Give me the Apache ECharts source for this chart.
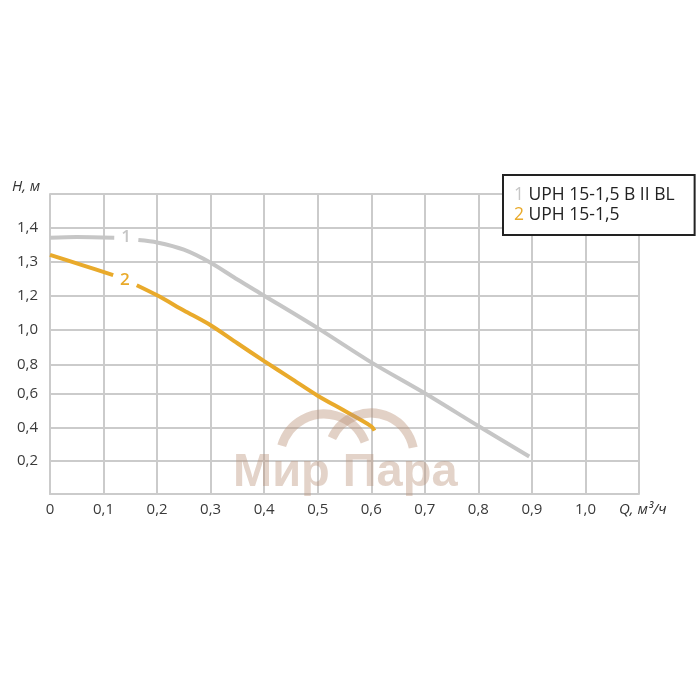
<!DOCTYPE html>
<html><head><meta charset="utf-8">
<script src="https://cdn.jsdelivr.net/npm/echarts@6/dist/echarts.min.js"></script>
<style>html,body{margin:0;padding:0;background:#fff}#c{width:700px;height:700px}</style>
</head><body><div id="c"></div>
<script>
// ---- data ----
const seriesNames = ['UPH 15-1,5 B II BL', 'UPH 15-1,5'];
const curveTags = ['1', '2'];
const q1 = [0, 0.05, 0.12, 0.14, 0.165, 0.2, 0.25, 0.3, 0.35, 0.4, 0.5, 0.6, 0.7, 0.8, 0.895];
const h1 = [1.37, 1.372, 1.37, null, 1.363, 1.356, 1.335, 1.297, 1.247, 1.198, 1.009, 0.815, 0.605, 0.408, 0.225];
const q2 = [0, 0.06, 0.118, 0.14, 0.162, 0.2, 0.25, 0.3, 0.35, 0.4, 0.45, 0.5, 0.55, 0.6, 0.606];
const h2 = [1.32, 1.29, 1.26, null, 1.23, 1.2, 1.112, 1.026, 0.923, 0.822, 0.708, 0.59, 0.499, 0.406, 0.38];
const tagH = [1.37, 1.245];
const tagQ = [0.142, 0.14];
const xTickLabels = ['0', '0,1', '0,2', '0,3', '0,4', '0,5', '0,6', '0,7', '0,8', '0,9', '1,0', ''];
const yTickValues = [0.2, 0.4, 0.6, 0.8, 1.0, 1.2, 1.3, 1.4];
const yTickLabels = ['0,2', '0,4', '0,6', '0,8', '1,0', '1,2', '1,3', '1,4'];

// ---- axis layout: the printed H scale is not linear; grid rows as drawn ----
const hKnots = [0, 0.2, 0.4, 0.6, 0.8, 1.0, 1.2, 1.3, 1.4, 1.5];
const rowKnots = [0, 1, 2, 3, 3.87, 4.93, 5.96, 6.97, 8, 9];
function toRow(h) {
  if (h === null) return '-';
  for (let i = 1; i < hKnots.length; i++) {
    if (h <= hKnots[i] || i === hKnots.length - 1) {
      const t = (h - hKnots[i - 1]) / (hKnots[i] - hKnots[i - 1]);
      return rowKnots[i - 1] + t * (rowKnots[i] - rowKnots[i - 1]);
    }
  }
}
const colors = ['#c6c6c6', '#e9aa2b'];
const gridColor = '#cbcbcb';
const font = '"Open Sans", "Noto Sans", sans-serif';

function mk(qs, hs, idx) {
  return {
    name: seriesNames[idx],
    type: 'line',
    data: qs.map((q, i) => [q, toRow(hs[i])]),
    showSymbol: false,
    smooth: 0.3,
    connectNulls: false,
    lineStyle: { color: colors[idx], width: 4 },
    itemStyle: { color: colors[idx] },
    z: 3,
    markPoint: {
      symbol: 'circle', symbolSize: 0,
      data: [{ coord: [tagQ[idx], toRow(tagH[idx])] }],
      label: { show: true, position: 'inside', formatter: curveTags[idx], color: colors[idx],
               fontSize: 17, fontWeight: 600, fontFamily: font }
    }
  };
}

const chart = echarts.init(document.getElementById('c'), null, { renderer: 'canvas' });
chart.setOption({
  animation: false,
  backgroundColor: '#fff',
  grid: { left: 50, right: 61, top: 194, bottom: 206, containLabel: false },
  xAxis: {
    type: 'value', min: 0, max: 1.1, interval: 0.1,
    axisLine: { show: true, lineStyle: { color: gridColor, width: 2 } },
    axisTick: { show: false },
    splitLine: { show: true, lineStyle: { color: gridColor, width: 2 } },
    axisLabel: { margin: 8, fontSize: 15, color: '#3a3a3a', fontFamily: font,
      formatter: v => xTickLabels[Math.round(v * 10)] || '' }
  },
  yAxis: {
    type: 'value', min: 0, max: 9,
    axisLine: { show: true, lineStyle: { color: gridColor, width: 2 } },
    axisTick: { show: false, customValues: rowKnots },
    splitLine: { show: true, lineStyle: { color: gridColor, width: 2 } },
    axisLabel: { margin: 12, fontSize: 15, color: '#3a3a3a', fontFamily: font,
      customValues: yTickValues.map(toRow),
      formatter: v => {
        const i = yTickValues.findIndex(h => Math.abs(toRow(h) - v) < 1e-6);
        return i >= 0 ? yTickLabels[i] : '';
      } }
  },
  legend: {
    orient: 'vertical', left: 503, top: 175,
    padding: [10, 20, 10, 6], itemGap: 0,
    itemWidth: 0, itemHeight: 0,
    borderColor: '#222', borderWidth: 2, backgroundColor: '#fff',
    selectedMode: false,
    data: seriesNames.map(n => ({ name: n, icon: 'rect', itemStyle: { opacity: 0 } })),
    formatter: name => {
      const i = seriesNames.indexOf(name);
      return '{t' + i + '|' + curveTags[i] + '} ' + name;
    },
    textStyle: {
      fontSize: 17.5, color: '#222', fontFamily: font, lineHeight: 20,
      rich: {
        t0: { color: colors[0], fontSize: 17.5, fontFamily: font, lineHeight: 20 },
        t1: { color: colors[1], fontSize: 17.5, fontFamily: font, lineHeight: 20 }
      }
    }
  },
  graphic: [
    { type: 'text', left: 12, top: 179, style: { text: 'H, м', fontSize: 15, fontStyle: 'italic', fill: '#333', fontFamily: font } },
    { type: 'text', left: 619, top: 502, style: { text: 'Q, м³/ч', fontSize: 15, fontStyle: 'italic', fill: '#333', fontFamily: font } },
    { type: 'arc', z: 10, shape: { cx: 324, cy: 458, r: 44, startAngle: -2.86, endAngle: -0.376, clockwise: true },
      style: { stroke: 'rgba(185,145,120,0.42)', lineWidth: 9, fill: null } },
    { type: 'arc', z: 10, shape: { cx: 371, cy: 456, r: 43, startAngle: -2.71, endAngle: -0.194, clockwise: true },
      style: { stroke: 'rgba(185,145,120,0.42)', lineWidth: 9, fill: null } },
    { type: 'text', z: 10, left: 233, top: 450, style: { text: 'Мир Пара', fontSize: 47, fontWeight: 'bold',
      fill: 'rgba(185,145,120,0.4)', fontFamily: '"Liberation Sans", Arial, sans-serif' } }
  ],
  series: [mk(q1, h1, 0), mk(q2, h2, 1)]
});
</script></body></html>
